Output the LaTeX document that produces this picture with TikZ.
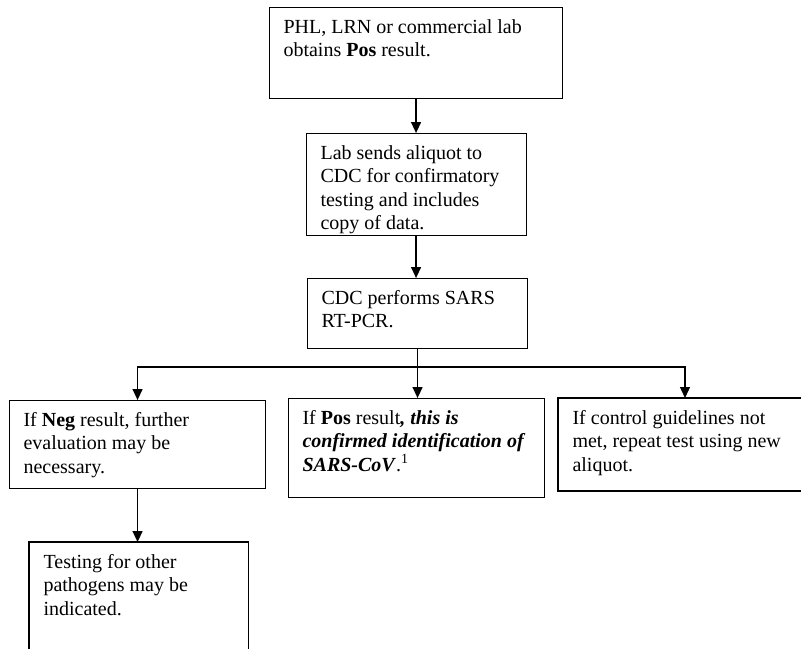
\documentclass[tikz,border=0pt]{standalone}
\usepackage{fontspec}
\setmainfont{Liberation Serif}
\usetikzlibrary{arrows.meta,calc}
\tikzset{
  box/.style={draw, line width=1.1pt, anchor=north west, inner xsep=14pt, inner ysep=9pt, font=\fontsize{20}{23.5}\selectfont},
  openbox/.style={box, draw=none},
  edge/.style={line width=1.1pt},
  arr/.style={line width=1.3pt, -{Triangle[length=11pt,width=10pt]}},
  conn/.style={line width=1.3pt}
}
% name, style, x, y, inner width, inner height, text
\newcommand{\flowbox}[7]{\node[#2] (#1) at (#3,#4) {\parbox[c][#6pt][t]{#5pt}{\raggedright\strut #7}};}
\begin{document}
\begin{tikzpicture}[x=1pt,y=-1pt]
\useasboundingbox (0,0) rectangle (803,648);
\fill[white] (0,0) rectangle (803,648);
\flowbox{A}{box}{269}{7}{265}{73}{PHL, LRN or commercial lab\\obtains \textbf{Pos} result.}
\flowbox{B}{box}{306}{133}{192}{84}{Lab sends aliquot to\\CDC for confirmatory\\testing and includes\\copy of data.}
\flowbox{C}{box}{307}{278}{192}{52}{CDC performs SARS\\RT-PCR.}
\flowbox{D}{box}{9}{400}{228}{70}{If \textbf{Neg} result, further\\evaluation may be\\necessary.}
\flowbox{E}{box}{288}{398}{228}{81}{If \textbf{Pos} result\textbf{\textit{, this is}}\\\textbf{\textit{confirmed identification of}}\\\textbf{\textit{SARS-CoV}}.\textsuperscript{1}}
\flowbox{F}{openbox}{558}{398}{240}{75}{If control guidelines not\\met, repeat test using new\\aliquot.}
\flowbox{G}{openbox}{29}{542}{190}{110}{Testing for other\\pathogens may be\\indicated.}
\coordinate (Fne) at (801,398);
\coordinate (Fse) at (801,491);
\draw[edge] (Fne) -- (Fne -| F.west) -- (Fse -| F.west) -- (Fse);
\draw[edge] (G.south west) -- (G.north west) -- (G.north east) -- (G.south east);
\coordinate (Ftop) at ($(F.north west)+(127,0)$);
\draw[arr] (A.south) -- (A.south |- B.north);
\draw[arr] (B.south -| A.south) -- (A.south |- C.north);
\coordinate (br) at ($(C.south)+(0,18)$);
\draw[conn] (C.south) -- (br);
\draw[arr] (br) -| (D.north);
\draw[arr] (br) -| (Ftop);
\draw[arr] (br) -- (br |- E.north);
\draw[arr] (D.south) -- (D.south |- G.north);
\end{tikzpicture}
\end{document}
